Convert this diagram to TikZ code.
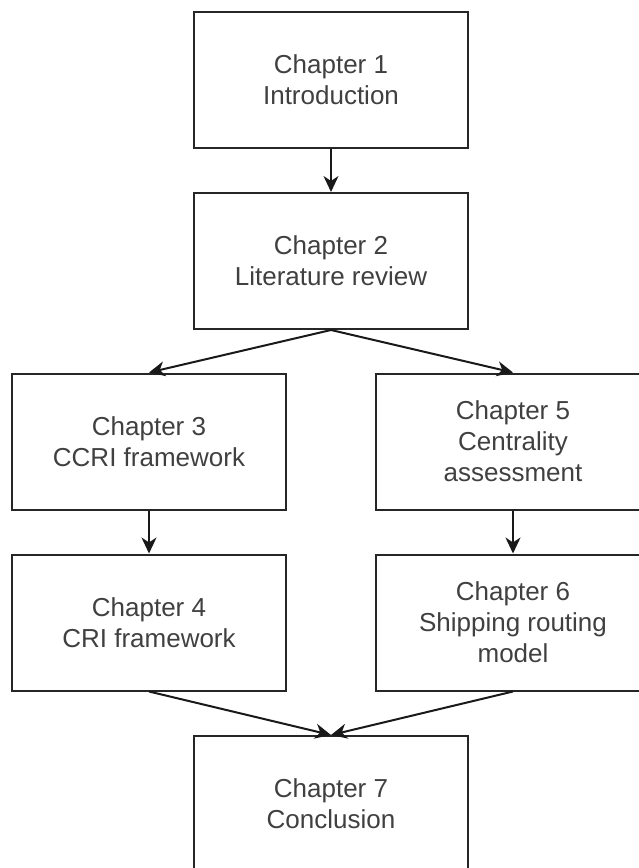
\documentclass[tikz,border=0pt]{standalone}
\usepackage{fontspec}
\setmainfont{Liberation Sans}
\usetikzlibrary{arrows.meta}

\tikzset{
    chapterbox/.style={draw=black!85, line width=2pt, rectangle, align=center,
        minimum width=\boxW pt, minimum height=\boxH pt, text=black!75,
        font=\fontsize{26}{31}\selectfont},
    flow/.style={line width=2pt, draw=black!90,
        -{Stealth[length=16pt, width=15pt, inset=5pt]}}
}

\begin{document}
\begin{tikzpicture}[x=1pt, y=-1pt]
        \pgfmathsetmacro{\boxW}{274}
        \pgfmathsetmacro{\boxH}{136}
        \pgfmathsetmacro{\midX}{331}
        \pgfmathsetmacro{\leftX}{149}
        \pgfmathsetmacro{\rightX}{513}

        \useasboundingbox (0, 0) rectangle (638, 868);

        \node[chapterbox] (intro) at (\midX, 79.5) {Chapter 1\\Introduction};
        \node[chapterbox] (litrev) at (\midX, 261) {Chapter 2\\Literature review};
        \node[chapterbox] (ccri) at (\leftX, 441.5) {Chapter 3\\CCRI framework};
        \node[chapterbox] (centrality) at (\rightX, 441.5) {Chapter 5\\Centrality\\assessment};
        \node[chapterbox] (cri) at (\leftX, 622.5) {Chapter 4\\CRI framework};
        \node[chapterbox] (routing) at (\rightX, 622.5) {Chapter 6\\Shipping routing\\model};
        \node[chapterbox] (concl) at (\midX, 804) {Chapter 7\\Conclusion};

        \draw[flow] (intro.south) -- (litrev.north);
        \draw[flow] (litrev.south) -- (ccri.north);
        \draw[flow] (litrev.south) -- (centrality.north);
        \draw[flow] (ccri.south) -- (cri.north);
        \draw[flow] (centrality.south) -- (routing.north);
        \draw[flow] (cri.south) -- (concl.north);
        \draw[flow] (routing.south) -- (concl.north);
    \end{tikzpicture}
\end{document}
